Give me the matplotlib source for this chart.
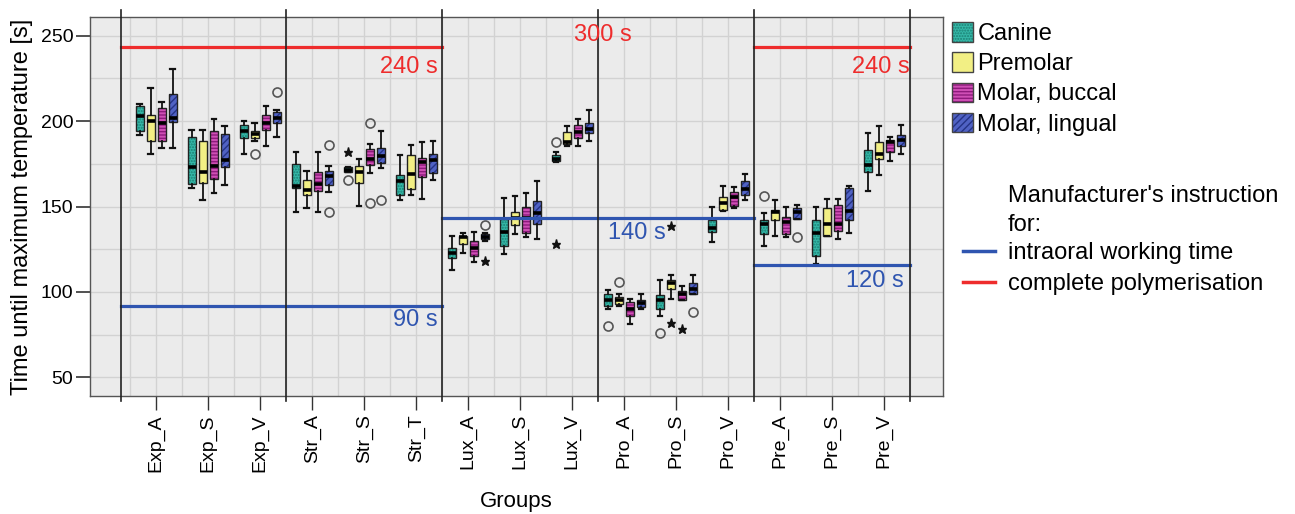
import matplotlib
matplotlib.use("Agg")
import matplotlib.pyplot as plt
from matplotlib.patches import Patch
from matplotlib.lines import Line2D

plt.rcParams["font.family"] = ["Liberation Sans", "DejaVu Sans"]
plt.rcParams["hatch.linewidth"] = 1.0

groups = ["Exp_A", "Exp_S", "Exp_V", "Str_A", "Str_S", "Str_T", "Lux_A", "Lux_S",
          "Lux_V", "Pro_A", "Pro_S", "Pro_V", "Pre_A", "Pre_S", "Pre_V"]
teeth = ["Canine", "Premolar", "Molar, buccal", "Molar, lingual"]

# whisker low, Q1, median, Q3, whisker high  (s)
canine = [
    [192, 194, 203, 209, 210], [161, 163, 173, 191, 195], [181, 190, 194.5, 198, 200],
    [147, 161, 162, 175, 182], [170.5, 170.5, 171.5, 173, 173], [154, 157, 165, 168.5, 180],
    [113, 120, 123, 125.5, 133], [122, 127, 135, 142.5, 155], [176, 176.5, 178, 180, 182],
    [90, 92, 95.5, 99, 101], [86, 90, 95.5, 98, 107], [129, 135, 137.5, 142, 149.5],
    [127, 134, 139.5, 142, 146], [116.5, 121, 134.3, 142, 150], [159, 170, 174.5, 183, 193],
]
premolar = [
    [181, 188.5, 200, 203.5, 219.5], [154, 164, 170.5, 188.5, 195], [188.5, 190, 192.5, 194.5, 199],
    [149, 157, 159.5, 165.5, 171], [150.5, 163.5, 170, 173.5, 178], [156.5, 160.5, 169, 180, 186],
    [123, 128, 132, 133, 134.5], [134, 139, 143, 146.5, 156], [185.5, 186.5, 188, 193.5, 197],
    [92, 93, 95.3, 97.2, 99], [96, 101.7, 105, 107, 110], [147.5, 148, 152, 155.8, 162],
    [133, 142, 147, 148, 154], [133, 133, 140, 149, 154.5], [168.5, 177.7, 181, 187.7, 197],
]
molar_buccal = [
    [184, 188.5, 199, 207.5, 211.5], [158, 166, 174, 194, 201], [185.5, 195, 199, 203.5, 209],
    [147, 159, 163, 170, 182], [169.5, 174.5, 178, 183.5, 186.5], [154.5, 167, 176, 178.5, 188],
    [117.5, 121, 125.5, 130, 135], [132, 134.5, 143, 149.5, 158], [185.5, 190, 193.5, 197.5, 201],
    [81, 86, 90, 94, 96], [95.5, 95.5, 98.5, 100.5, 103.5], [149, 150.5, 155.8, 158.4, 161.7],
    [132, 134, 141, 143.7, 150], [131, 135.7, 140, 150.7, 154.5], [176.5, 182, 187.7, 188.7, 191],
]
molar_lingual = [
    [184.5, 199.5, 202, 216, 230.5], [162.5, 173, 177, 192.5, 197], [190.5, 199, 202, 205.5, 206.5],
    [158.5, 162.5, 168, 171, 174], [172.5, 175.5, 179.5, 184.5, 194], [165.5, 169.5, 177, 181, 188.5],
    [130, 130.8, 132.4, 133.8, 134.3], [131, 139.5, 146, 153, 165], [188.5, 193, 195.5, 199, 206.5],
    [90, 91, 93.3, 95.3, 99], [99, 99, 101.7, 105, 110], [154, 156.8, 160, 165, 169],
    [142.7, 142.7, 147, 149, 151], [134.5, 142, 147.5, 161, 162], [181, 185.5, 188.7, 192, 198],
]

# (group, tooth, value) outliers (circles) and extremes (stars)
outliers = [(2, 1, 181), (2, 3, 217), (3, 3, 186), (3, 3, 147), (4, 0, 165.5),
            (4, 2, 199), (4, 2, 152), (4, 3, 154), (6, 3, 139), (8, 0, 187.5),
            (9, 0, 80), (9, 1, 106), (10, 0, 76), (10, 3, 88), (12, 0, 156), (12, 3, 132)]
extremes = [(4, 0, 182), (6, 3, 118), (8, 0, 128), (10, 1, 82), (10, 1, 138.5), (10, 2, 78)]

# manufacturer's instruction per brand section
sections = [-0.67, 2.5, 5.5, 8.5, 11.5, 14.5]
red_levels = [(-0.67, 5.5, 243.5), (11.5, 14.5, 243.5)]
blue_levels = [(-0.67, 5.5, 92), (5.5, 11.5, 143), (11.5, 14.5, 116)]
RED = "#ee2c2c"
BLUE = "#2f55b0"

faces = ["#35b8a8", "#f2ef84", "#cf4fb5", "#5062c4"]
hatch_cols = ["#1b8074", "#f2ef84", "#8e1a7c", "#253386"]
hatches = ["......", None, "-----", "/////"]
offsets = [-0.317, -0.106, 0.106, 0.317]
all_stats = [canine, premolar, molar_buccal, molar_lingual]

fig = plt.figure(figsize=(12.95, 5.14), dpi=100)
ax = fig.add_axes([90 / 1295, 118 / 514, 853 / 1295, 379 / 514])
ax.set_facecolor("#ebebeb")

for k, rows in enumerate(all_stats):
    stats = [dict(whislo=r[0], q1=r[1], med=r[2], q3=r[3], whishi=r[4], fliers=[]) for r in rows]
    pos = [i + offsets[k] for i in range(len(groups))]
    ax.bxp(stats, positions=pos, widths=0.155, patch_artist=True, showfliers=False,
           boxprops=dict(facecolor=faces[k], edgecolor=hatch_cols[k], hatch=hatches[k], linewidth=0),
           whiskerprops=dict(linewidth=0), capprops=dict(linewidth=0),
           medianprops=dict(linewidth=0), zorder=3)
    ax.bxp(stats, positions=pos, widths=0.155, patch_artist=True, showfliers=False,
           capwidths=0.08,
           boxprops=dict(facecolor="none", edgecolor="#222222", linewidth=1.0),
           whiskerprops=dict(color="#111111", linewidth=1.3),
           capprops=dict(color="#111111", linewidth=1.6),
           medianprops=dict(color="black", linewidth=2.6, solid_capstyle="butt"), zorder=3.1)

for g, t, v in outliers:
    ax.plot(g + offsets[t], v, "o", mfc="none", mec="#555555", mew=1.2, ms=6.5, zorder=3.2)
for g, t, v in extremes:
    ax.plot(g + offsets[t], v, "*", color="#111111", ms=6.5, zorder=3.2)

for x0, x1, y in red_levels:
    ax.plot([x0, x1], [y, y], color=RED, lw=2.3, zorder=4)
for x0, x1, y in blue_levels:
    ax.plot([x0, x1], [y, y], color=BLUE, lw=2.3, zorder=4)
for x in sections:
    ax.axvline(x, ymin=-0.014, ymax=1.018, clip_on=False, color="#222222", lw=1.2, zorder=4)

ann = dict(fontsize=17, va="center", zorder=5)
ax.text(5.42, 231.8, "240 s", color=RED, ha="right", **ann)
ax.text(5.42, 83.5, "90 s", color=BLUE, ha="right", **ann)
ax.text(8.6, 250.5, "300 s", color=RED, ha="center", **ann)
ax.text(9.79, 134.2, "140 s", color=BLUE, ha="right", **ann)
ax.text(14.5, 232, "240 s", color=RED, ha="right", **ann)
ax.text(14.38, 106.4, "120 s", color=BLUE, ha="right", **ann)

ax.set_xlim(-1.27, 15.13)
ax.set_ylim(39, 261)
ax.set_xticks(range(len(groups)))
ax.set_xticklabels(groups, rotation=90, fontsize=14)
ax.set_xticks([i * 0.5 - 0.5 for i in range(31) if i % 2 == 0], minor=True)
ax.set_yticks([50, 100, 150, 200, 250])
ax.set_yticks([75, 125, 175, 225], minor=True)
ax.tick_params(axis="y", labelsize=14, length=10, width=1.2, color="#333333", pad=2)
ax.tick_params(axis="x", length=10, width=1.0, color="#333333", pad=3)
ax.tick_params(which="minor", length=0)
ax.grid(True, which="both", color="#d2d2d2", lw=1.0)
ax.set_axisbelow(True)
for s in ax.spines.values():
    s.set_color("#555555")
    s.set_linewidth(1.0)

ax.set_xlabel("Groups", fontsize=16)
ax.xaxis.set_label_coords(0.5, -0.25)
ax.set_ylabel("Time until maximum temperature [s]", fontsize=17)
ax.yaxis.set_label_coords(-0.067, 0.5)

handles = []
for k in range(4):
    handles.append((Patch(facecolor=faces[k], edgecolor=hatch_cols[k], hatch=hatches[k], lw=0),
                    Patch(facecolor="none", edgecolor="#444444", lw=1.0)))
fig.legend(handles, teeth, loc="upper left", bbox_to_anchor=(952 / 1295, 1 - 22 / 514),
           frameon=False, fontsize=17, handlelength=0.9, handleheight=0.9,
           handletextpad=0.17, labelspacing=0.31, borderpad=0, borderaxespad=0)

fig.text(1008 / 1295, 1 - 196 / 514, "Manufacturer's instruction", fontsize=17, va="center")
fig.text(1008 / 1295, 1 - 225 / 514, "for:", fontsize=17, va="center")
line_handles = [Line2D([], [], color=BLUE, lw=2.5), Line2D([], [], color=RED, lw=2.5)]
fig.legend(line_handles, ["intraoral working time", "complete polymerisation"], loc="upper left",
           bbox_to_anchor=(963 / 1295, 1 - 242 / 514), frameon=False, fontsize=17,
           handlelength=1.36, handletextpad=0.55, labelspacing=0.38, borderpad=0, borderaxespad=0)

fig.savefig("out.png", dpi=100)
